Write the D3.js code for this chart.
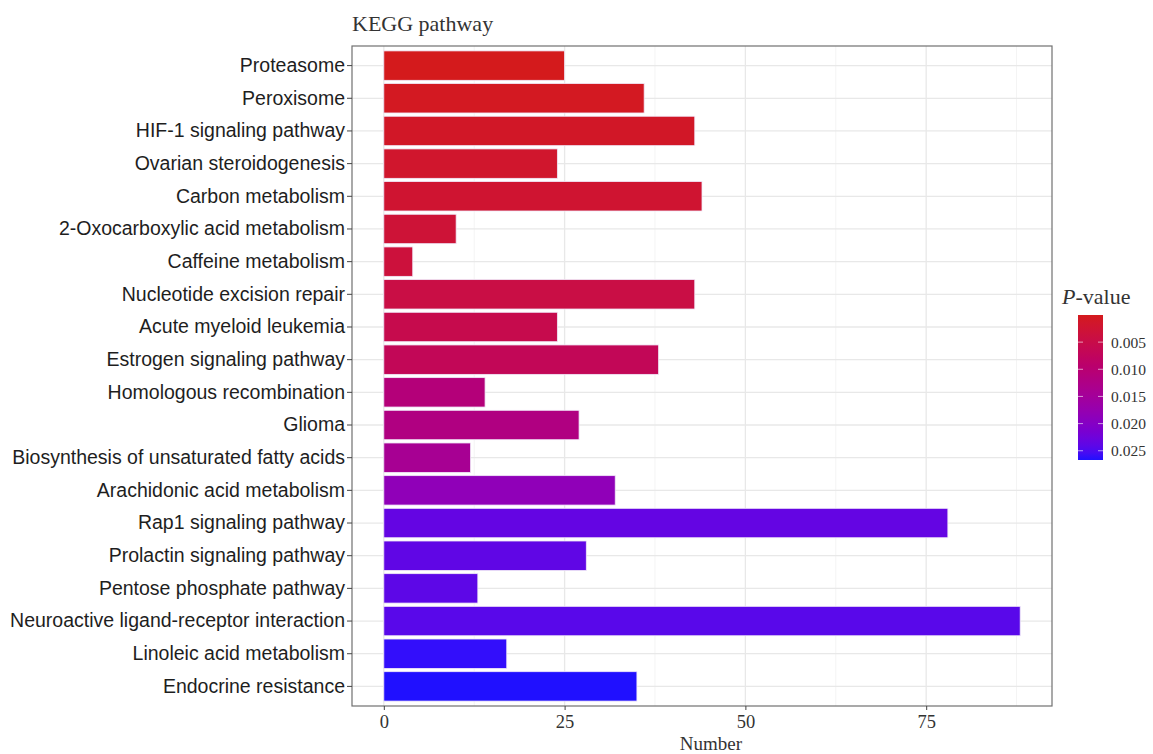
<!DOCTYPE html>
<meta charset="utf-8">
<style>
    body { margin: 0; background: #fff; }
    .ylab { font: 19.5px "Liberation Sans", Arial, sans-serif; fill: #1e1e1e; }
    .serif { font-family: "Liberation Serif", "Times New Roman", serif; fill: #333; }
</style>
<body>
<script src="https://d3js.org/d3.v7.min.js"></script>
<script>
    // pathway names, top to bottom
    const pathways = ["Proteasome", "Peroxisome", "HIF-1 signaling pathway", "Ovarian steroidogenesis",
        "Carbon metabolism", "2-Oxocarboxylic acid metabolism", "Caffeine metabolism",
        "Nucleotide excision repair", "Acute myeloid leukemia", "Estrogen signaling pathway",
        "Homologous recombination", "Glioma", "Biosynthesis of unsaturated fatty acids",
        "Arachidonic acid metabolism", "Rap1 signaling pathway", "Prolactin signaling pathway",
        "Pentose phosphate pathway", "Neuroactive ligand-receptor interaction",
        "Linoleic acid metabolism", "Endocrine resistance"];
    // gene number per pathway
    const counts = [25, 36, 43, 24, 44, 10, 4, 43, 24, 38, 14, 27, 12, 32, 78, 28, 13, 88, 17, 35];
    // p-values
    const pvalues = [0.00001, 0.0006, 0.0011, 0.0017, 0.0022, 0.0028, 0.0035, 0.0045, 0.0055, 0.0068,
        0.011, 0.012, 0.0142, 0.0185, 0.0235, 0.0238, 0.024, 0.0243, 0.0262, 0.0267];
    const xTicks = [0, 25, 50, 75];
    const legendTicks = [0.005, 0.010, 0.015, 0.020, 0.025];

    let width = 1153, height = 754;
    let margin = {left: 352, right: 101, top: 46, bottom: 48};
    let pw = width - margin.left - margin.right;
    let ph = height - margin.top - margin.bottom;

    let svg = d3.select("body").append("svg")
        .attr("width", width)
        .attr("height", height);

    let g = svg.append("g")
        .attr("transform", "translate(" + margin.left + "," + margin.top + ")");

    // ggplot-like expansion of 5%
    let xmax = d3.max(counts);
    let x = d3.scaleLinear()
        .domain([-0.05 * xmax, 1.05 * xmax])
        .range([0, pw]);

    let y = d3.scaleBand()
        .domain(pathways)
        .range([0, ph])
        .paddingInner(0.1)
        .paddingOuter(0.15);

    let pmin = d3.min(pvalues), pmax = d3.max(pvalues);
    let color = d3.scaleLinear()
        .domain([pmin, pmax])
        .range(["#d41a1c", "#2010ff"])
        .interpolate(d3.interpolateLab);

    // grid: minor then major
    let minor = [12.5, 37.5, 62.5, 87.5];
    g.selectAll(".minor").data(minor).join("line")
        .attr("x1", d => x(d)).attr("x2", d => x(d))
        .attr("y1", 0).attr("y2", ph)
        .attr("stroke", "#f4f4f4").attr("stroke-width", 1);
    g.selectAll(".major").data(xTicks).join("line")
        .attr("x1", d => x(d)).attr("x2", d => x(d))
        .attr("y1", 0).attr("y2", ph)
        .attr("stroke", "#e8e8e8").attr("stroke-width", 1.3);
    g.selectAll(".hgrid").data(pathways).join("line")
        .attr("x1", 0).attr("x2", pw)
        .attr("y1", d => y(d) + y.bandwidth() / 2)
        .attr("y2", d => y(d) + y.bandwidth() / 2)
        .attr("stroke", "#e8e8e8").attr("stroke-width", 1.3);

    // bars
    g.selectAll(".bar").data(pathways).join("rect")
        .attr("x", x(0))
        .attr("y", d => y(d))
        .attr("width", (d, i) => x(counts[i]) - x(0))
        .attr("height", y.bandwidth())
        .attr("fill", (d, i) => color(pvalues[i]))
        .attr("stroke", "#f0e8f8")
        .attr("stroke-width", 0.8);

    // panel border
    g.append("rect")
        .attr("width", pw).attr("height", ph)
        .attr("fill", "none")
        .attr("stroke", "#707070").attr("stroke-width", 1.2);

    // y axis
    let yAxis = g.append("g").call(d3.axisLeft(y).tickSize(5).tickPadding(2));
    yAxis.select(".domain").remove();
    yAxis.selectAll("line").attr("stroke", "#444");
    yAxis.selectAll("text").attr("class", "ylab").attr("fill", null);

    // x axis
    let xAxis = g.append("g")
        .attr("transform", "translate(0," + ph + ")")
        .call(d3.axisBottom(x).tickValues(xTicks).tickSize(4).tickPadding(5));
    xAxis.select(".domain").remove();
    xAxis.selectAll("line").attr("stroke", "#444");
    xAxis.selectAll("text")
        .attr("class", "serif")
        .attr("fill", null)
        .style("font-size", "18.5px");

    // titles
    svg.append("text")
        .attr("class", "serif")
        .attr("x", margin.left).attr("y", 31)
        .style("font-size", "22px")
        .text("KEGG pathway");

    svg.append("text")
        .attr("class", "serif")
        .attr("x", 711).attr("y", 750)
        .attr("text-anchor", "middle")
        .style("font-size", "19px")
        .text("Number");

    // legend
    let lx = 1078, ly = 315, lw = 25, lh = 145;
    let legendTitle = svg.append("text")
        .attr("class", "serif")
        .attr("x", 1062).attr("y", 304)
        .style("font-size", "22px");
    legendTitle.append("tspan").style("font-style", "italic").text("P");
    legendTitle.append("tspan").text("-value");

    let defs = svg.append("defs");
    let grad = defs.append("linearGradient")
        .attr("id", "pgrad")
        .attr("x1", 0).attr("x2", 0).attr("y1", 0).attr("y2", 1);
    d3.range(0, 1.0001, 0.05).forEach(function(t){
        grad.append("stop")
            .attr("offset", t)
            .attr("stop-color", color(pmin + t * (pmax - pmin)));
    });

    let ly_scale = d3.scaleLinear().domain([pmin, pmax]).range([ly, ly + lh]);

    svg.append("rect")
        .attr("x", lx).attr("y", ly)
        .attr("width", lw).attr("height", lh)
        .attr("fill", "url(#pgrad)");

    legendTicks.forEach(function(t){
        let yy = ly_scale(t);
        svg.append("line")
            .attr("x1", lx).attr("x2", lx + 5)
            .attr("y1", yy).attr("y2", yy)
            .attr("stroke", "#fff").attr("stroke-opacity", 0.6);
        svg.append("line")
            .attr("x1", lx + lw - 5).attr("x2", lx + lw)
            .attr("y1", yy).attr("y2", yy)
            .attr("stroke", "#fff").attr("stroke-opacity", 0.6);
        svg.append("text")
            .attr("class", "serif")
            .attr("x", lx + lw + 8).attr("y", yy)
            .attr("dy", "0.35em")
            .style("font-size", "15.5px")
            .text(d3.format(".3f")(t));
    });
</script>
</body>
